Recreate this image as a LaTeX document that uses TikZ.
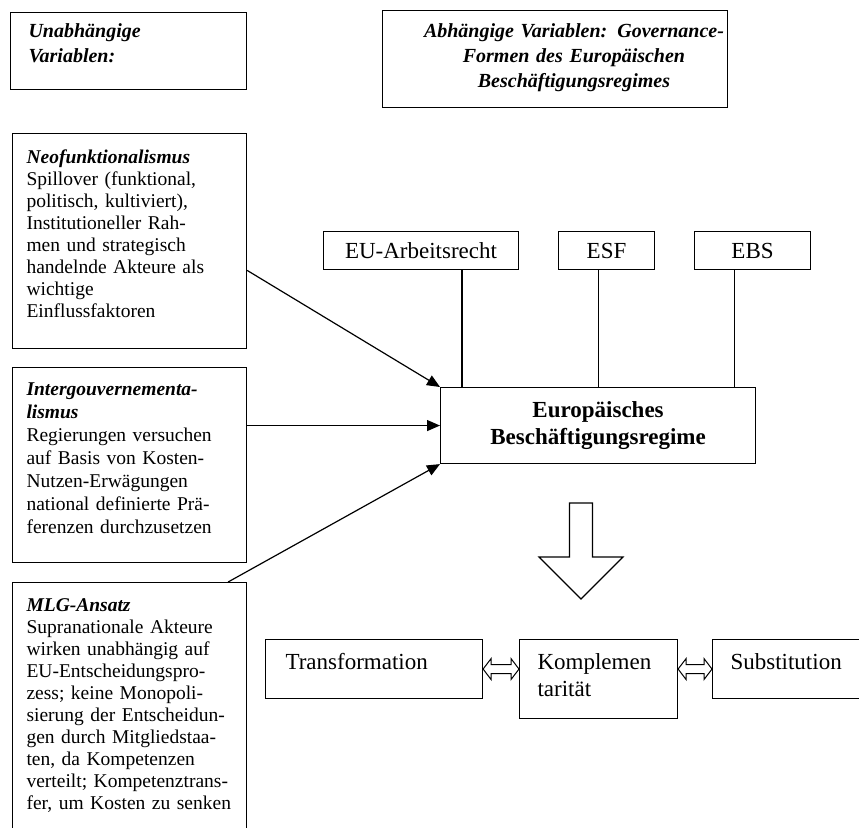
\documentclass[tikz,border=0pt]{standalone}
\usepackage{fontspec}
\setmainfont{Liberation Serif}
\usetikzlibrary{arrows.meta}

\newcommand{\kopf}[1]{\textbf{\textit{#1}}}

\tikzset{
  feld/.style={draw, line width=1.1pt, anchor=north west, align=left, inner ysep=0pt},
  klein/.style={font=\fontsize{19.5}{22}\selectfont},
  gross/.style={font=\fontsize{23}{27}\selectfont},
  pfeil/.style={line width=1.2pt, -{Triangle[length=13pt,width=11pt]}},
  hohl/.style={line width=1pt, line join=miter}
}

\begin{document}
\begin{tikzpicture}[x=1pt, y=-1pt]
    \useasboundingbox (0,0) rectangle (859,827);
    \clip (0,0) rectangle (859,827);
    % Kopfzeile
    \node[feld, font=\fontsize{20}{25}\selectfont\bfseries\itshape, text width=200pt, inner xsep=18pt,
      text height=25pt, text depth=52pt] (uv) at (10,12) {Unabhängige\\Variablen:};
    \node[feld, minimum width=345pt, minimum height=97pt, inner sep=0pt] (av) at (382,10) {};
    \node[font=\fontsize{20}{25}\selectfont\bfseries\itshape, text width=330pt, align=center,
      anchor=base, inner sep=0pt] (avtext) at (574,37.5)
      {Abhängige Variablen: Governance-\\Formen des Europäischen\\Beschäftigungsregimes};

    % Theorien
    \node[feld, klein, text width=206pt, inner xsep=14pt, text height=30pt, text depth=185pt] (neo) at (12,133)
      {\kopf{Neofunktionalismus}\\Spillover (funktional,\\politisch, kultiviert),\\Institutioneller Rah-\\men und strategisch\\handelnde Akteure als\\wichtige\\Einflussfaktoren};
    \node[feld, font=\fontsize{19.5}{23}\selectfont, text width=206pt, inner xsep=14pt, text height=28pt, text depth=167pt] (inter) at (12,367)
      {\kopf{Intergouvernementa-}\\\kopf{lismus}\\Regierungen versuchen\\auf Basis von Kosten-\\Nutzen-Erwägungen\\national definierte Prä-\\ferenzen durchzusetzen};
    \node[feld, klein, text width=206pt, inner xsep=14pt, text height=29pt, text depth=270pt] (mlg) at (12,582)
      {\kopf{MLG-Ansatz}\\Supranationale Akteure\\wirken unabhängig auf\\EU-Entscheidungspro-\\zess; keine Monopoli-\\sierung der Entscheidun-\\gen durch Mitgliedstaa-\\ten, da Kompetenzen\\verteilt; Kompetenztrans-\\fer, um Kosten zu senken};

    % Regime und Instrumente
    \node[feld, font=\fontsize{23}{27}\selectfont\bfseries, align=center, minimum width=315pt, minimum height=76pt] (ebr) at (440,387)
      {Europäisches\\Beschäftigungsregime};
    \node[feld, gross, align=center, minimum width=195pt, minimum height=38pt, inner sep=0pt] (recht) at (323,231) {EU-Arbeitsrecht};
    \node[feld, gross, align=center, minimum width=96pt, minimum height=38pt, inner sep=0pt] (esf) at (558,231) {ESF};
    \node[feld, gross, align=center, minimum width=116pt, minimum height=38pt, inner sep=0pt] (ebs) at (694,231) {EBS};

    \coordinate (l1) at ([xshift=22pt]ebr.north west);
    \coordinate (l3) at ([xshift=-22pt]ebr.north east);
    \draw[line width=1.1pt] (l1) -- (l1 |- recht.south);
    \draw[line width=1.1pt] (ebr.north) -- (ebr.north |- esf.south);
    \draw[line width=1.1pt] (l3) -- (l3 |- ebs.south);

    \draw[pfeil] (neo.-14) -- (ebr.north west);
    \draw[pfeil] (inter.east |- ebr.west) -- (ebr.west);
    \draw[pfeil] ([xshift=-19pt]mlg.north east) -- (ebr.south west);

    % Pfeil nach unten
    \draw[line width=1.1pt] (569.5,503) -- (592.5,503) -- (592.5,557) -- (623,557) -- (581,599)
      -- (539,557) -- (569.5,557) -- cycle;

    % Formen
    \node[feld, gross, text width=177pt, inner xsep=20pt, text height=30pt, text depth=29pt] (trans) at (265,639) {Transformation};
    \node[feld, gross, text width=122pt, inner xsep=18pt, text height=30pt, text depth=49pt] (kompl) at (519,639) {Komplemen\\tarität};
    \node[feld, gross, text width=122pt, inner xsep=18pt, text height=30pt, text depth=29pt] (subst) at (712,639) {Substitution};

    \coordinate (d1) at (kompl.west |- trans.east);
    \coordinate (d2) at (kompl.east |- subst.west);
    \draw[hohl] (trans.east) -- ++(8,-10.5) -- ++(0,6) -- ([shift={(-8,-4.5)}]d1) -- ++(0,-6) -- (d1)
      -- ++(-8,10.5) -- ++(0,-6) -- ([shift={(8,4.5)}]trans.east) -- ++(0,6) -- cycle;
    \draw[hohl] (d2) -- ++(8,-10.5) -- ++(0,6) -- ([shift={(-8,-4.5)}]subst.west) -- ++(0,-6) -- (subst.west)
      -- ++(-8,10.5) -- ++(0,-6) -- ([shift={(8,4.5)}]d2) -- ++(0,6) -- cycle;
\end{tikzpicture}
\end{document}
